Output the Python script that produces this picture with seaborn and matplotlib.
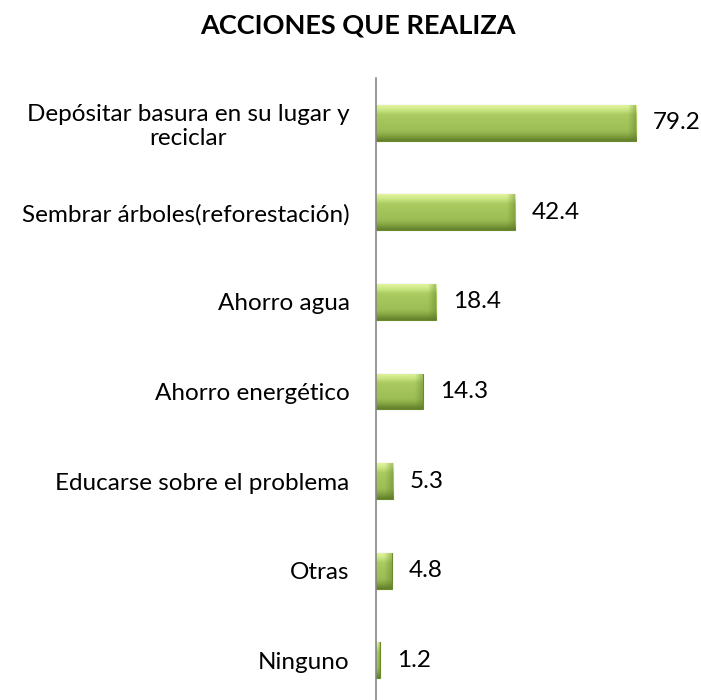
import numpy as np
import pandas as pd
import seaborn as sns
import matplotlib.pyplot as plt
from matplotlib.colors import LinearSegmentedColormap

categories = [
    "Depósitar basura en su lugar y\nreciclar",
    "Sembrar árboles(reforestación)",
    "Ahorro agua",
    "Ahorro energético",
    "Educarse sobre el problema",
    "Otras",
    "Ninguno",
]
values = [79.2, 42.4, 18.4, 14.3, 5.3, 4.8, 1.2]
value_labels = ["79.2", "42.4", "18.4", "14.3", "5.3", "4.8", "1.2"]

sns.set_style("white")
plt.rcParams['font.family'] = ['Lato', 'DejaVu Sans']

df = pd.DataFrame({"accion": categories, "pct": values})

fig = plt.figure(figsize=(7.01, 7.00), dpi=100)
ax = fig.add_axes([376 / 701, -5 / 700, 304 / 701, 627 / 700])

sns.barplot(data=df, y="accion", x="pct", orient="h", color="#9bbb59",
            width=0.4, edgecolor="#6b8a2d", linewidth=0.8, ax=ax)

# gradient fill inside each bar (3D-ish look), light on top, dark at bottom
green = LinearSegmentedColormap.from_list(
    "bev", [(0.0, "#e2f59e"), (0.16, "#c4e17c"), (0.26, "#abcb61"),
            (0.72, "#9cbd55"), (0.84, "#87a845"), (1.0, "#62802a")])
grad = np.linspace(0, 1, 64).reshape(-1, 1)
# right end bevel: transparent -> dark green
shade = np.zeros((1, 32, 4))
shade[..., 0], shade[..., 1], shade[..., 2] = 0.38, 0.5, 0.17
shade[..., 3] = np.clip((np.linspace(0, 1, 32) - 0.5) * 2, 0, 1) * 0.45
bevel_w = 8 / 3.283
for p in ax.patches:
    x0, y0 = p.get_x(), p.get_y()
    w, h = p.get_width(), p.get_height()
    im = ax.imshow(grad, cmap=green, aspect="auto", interpolation="bicubic",
                   origin="upper", extent=[x0, x0 + w, y0 + h, y0],
                   zorder=p.get_zorder() + 0.1)
    im.set_clip_path(p)
    bw = min(2 * bevel_w, w)
    im2 = ax.imshow(shade, aspect="auto", interpolation="bilinear",
                    extent=[x0 + w - bw, x0 + w, y0 + h, y0],
                    zorder=p.get_zorder() + 0.2)
    im2.set_clip_path(p)

for i, v in enumerate(values):
    ax.annotate(value_labels[i], xy=(v, i), xytext=(12, 0), textcoords="offset points",
                ha="left", va="center", fontsize=17.5, color="black")

ax.set_xlim(0, 92.6)
ax.set_ylim(6.5, -0.5)
ax.set_xlabel("")
ax.set_ylabel("")
ax.set_xticks([])
ax.tick_params(axis="y", length=0, pad=19, labelsize=17.5, labelcolor="black")
for lbl in ax.get_yticklabels():
    lbl.set_multialignment("center")
    lbl.set_linespacing(1.2)
for s in ["top", "right", "bottom"]:
    ax.spines[s].set_visible(False)
ax.spines["left"].set_color("#868686")
ax.spines["left"].set_linewidth(1.2)
ax.spines["left"].set_zorder(5)

fig.text(0.511, 0.963, "ACCIONES QUE REALIZA", ha="center", va="center",
         fontsize=19.5, fontweight="bold", color="black")

fig.savefig("out.png", dpi=100)
